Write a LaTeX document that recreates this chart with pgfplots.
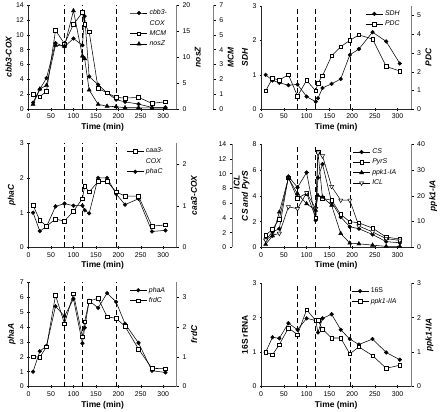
\documentclass[border=0pt]{standalone}
\usepackage{pgfplots}
\pgfplotsset{compat=1.18}
\usepackage{fontspec}
\setmainfont{Liberation Sans}
\begin{document}
\pgfplotsset{
  panel/.style={scale only axis, anchor=south west, xmin=0, xmax=330,
    tick align=outside, major tick length=2.5bp,
    tick style={line width=0.4pt, black},
    ticklabel style={font=\fontsize{7}{8}\selectfont},
    label style={font=\fontsize{8.5}{10}\selectfont\bfseries},
    ylabel style={inner sep=1bp},
    /pgf/number format/assume math mode=true, clip=false},
  prim/.style={panel, axis x line=bottom, axis y line=left,
    axis line style={-, line width=0.5pt, black!85},
    xtick={0,50,...,300}, xlabel={Time (min)}, xlabel style={yshift=2bp}},
  sec/.style={panel, axis x line=none, axis y line*=right,
    axis line style={-, line width=0.6pt, black!50}},
  hid/.style={panel, axis lines=none},
  fc/.style={black, line width=0.55pt, mark=*, mark size=1.9bp, mark options={solid, fill=black, line width=0.4pt}},
  os/.style={black, line width=0.55pt, mark=square*, mark size=1.8bp, mark options={solid, fill=white, line width=0.5pt}},
  ft/.style={black, line width=0.55pt, mark=triangle*, mark size=2.4bp, mark options={solid, fill=black, line width=0.4pt}},
  ot/.style={black, line width=0.55pt, mark=triangle*, mark size=2.4bp, mark options={solid, fill=white, rotate=180, line width=0.5pt}},
  leg/.style={legend cell align=left, legend style={draw=none, fill=none,
    font=\fontsize{7}{10}\selectfont\itshape, at={(axis description cs:#1)},
    anchor=north west, row sep=0pt, inner sep=0pt}},
  dl/.style={black, line width=0.6pt, dash pattern=on 5bp off 3bp, forget plot},
}
\begin{tikzpicture}
\useasboundingbox (0,0) rectangle (441bp,414bp);
% ---------------- Panel 1 ----------------
\begin{axis}[prim, at={(26bp,304bp)}, width=149bp, height=105bp, ymin=0, ymax=14, ytick={0,2,...,14}, ylabel={\itshape cbb3-COX}]
\addplot[dl] coordinates {(80,0)(80,14)};
\addplot[dl] coordinates {(120,0)(120,14)};
\addplot[dl] coordinates {(195,0)(195,14)};
\addplot[fc, forget plot] coordinates {(10,0.9)(25,2.7)(40,4.2)(60,8.9)(80,8.4)(100,9.5)(120,8.6)(125,12.5)(135,4.4)(155,3.3)(175,2.2)(195,1.3)(215,1.0)(245,0.7)(275,0.25)(305,0.25)};
\end{axis}
\begin{axis}[hid, at={(26bp,304bp)}, width=149bp, height=105bp, ymin=0, ymax=7]
\addplot[os, forget plot] coordinates {(10,1.0)(25,0.85)(40,1.2)(60,5.3)(80,4.4)(100,5.7)(120,6.5)(125,5.7)(135,5.2)(155,1.4)(175,1.1)(195,0.8)(215,0.75)(245,0.8)(275,0.4)(305,0.5)};
\end{axis}
\begin{axis}[sec, at={(26bp,304bp)}, width=149bp, height=105bp, ymin=0, ymax=20, ytick={0,5,...,20}, ylabel={\itshape nosZ}, leg={0.685,0.975}]
\addlegendimage{fc}\addlegendentry{cbb3-}
\addlegendimage{empty legend}\addlegendentry{COX}
\addlegendimage{os}\addlegendentry{MCM}
\addlegendimage{ft}\addlegendentry{nosZ}
\addplot[ft, forget plot] coordinates {(10,0.95)(25,3.9)(40,4.6)(60,12.3)(80,12.1)(100,18.9)(120,10.2)(125,9.7)(135,3.7)(155,0.95)(175,0.6)(195,0.5)(215,0.3)(245,0.3)(275,0.25)(305,0.25)};
\end{axis}
\begin{axis}[panel, anchor=south east, at={(212bp,304bp)}, width=1bp, height=105bp, xmin=0, xmax=1, axis x line=none, axis y line*=right, axis line style={-, line width=0.6pt, black!50}, ymin=0, ymax=7, ytick={0,...,7}, ylabel={\itshape MCM}]
\end{axis}
% ---------------- Panel 2 ----------------
\begin{axis}[prim, at={(260bp,304bp)}, width=151bp, height=104bp, ymin=0, ymax=3, ytick={0,1,2,3}, ylabel={\itshape SDH}]
\addplot[dl] coordinates {(80,0)(80,3)};
\addplot[dl] coordinates {(120,0)(120,3)};
\addplot[dl] coordinates {(195,0)(195,3)};
\addplot[fc, forget plot] coordinates {(10,1.0)(25,0.84)(40,0.77)(60,0.70)(80,0.72)(100,0.37)(120,0.22)(125,0.32)(135,0.62)(155,0.74)(175,0.88)(195,1.58)(215,1.75)(245,2.24)(275,1.97)(305,1.33)};
\end{axis}
\begin{axis}[sec, at={(260bp,304bp)}, width=151bp, height=104bp, ymin=0, ymax=5.5, ytick={0,...,5}, ylabel={\itshape PDC}, leg={0.695,0.975}]
\addlegendimage{fc}\addlegendentry{SDH}
\addlegendimage{os}\addlegendentry{PDC}
\addplot[os, forget plot] coordinates {(10,0.98)(25,1.65)(40,1.56)(60,1.84)(80,0.70)(100,1.54)(120,0.98)(125,1.40)(135,1.79)(155,2.84)(175,3.33)(195,3.67)(215,3.96)(245,3.74)(275,2.28)(305,2.04)};
\end{axis}
% ---------------- Panel 3 ----------------
\begin{axis}[prim, at={(26bp,165bp)}, width=149bp, height=105bp, ymin=0, ymax=3, ytick={0,1,2,3}, ylabel={\itshape phaC}]
\addplot[dl] coordinates {(80,0)(80,3)};
\addplot[dl] coordinates {(120,0)(120,3)};
\addplot[dl] coordinates {(195,0)(195,3)};
\addplot[fc, forget plot] coordinates {(10,1.0)(25,0.47)(40,0.6)(60,1.18)(80,1.26)(100,1.2)(120,1.2)(125,1.07)(135,0.98)(155,2.0)(175,2.0)(195,1.54)(215,1.23)(245,1.40)(275,0.46)(305,0.49)};
\end{axis}
\begin{axis}[sec, at={(26bp,165bp)}, width=149bp, height=105bp, ymin=0, ymax=2.5, ytick={0,1,2}, ylabel={\itshape caa3-COX}, leg={0.66,0.975}]
\addlegendimage{os}\addlegendentry{caa3-}
\addlegendimage{empty legend}\addlegendentry{COX}
\addlegendimage{fc}\addlegendentry{phaC}
\addplot[os, forget plot] coordinates {(10,1.01)(25,0.65)(40,0.51)(60,0.68)(80,0.63)(100,0.87)(120,1.17)(125,1.47)(135,1.33)(155,1.58)(175,1.58)(195,1.33)(215,1.23)(245,1.23)(275,0.51)(305,0.54)};
\end{axis}
% ---------------- Panel 4 ----------------
\begin{axis}[prim, at={(260bp,165bp)}, width=151bp, height=104bp, ymin=0, ymax=8, ytick={0,2,...,8}, ylabel={\itshape CS and PyrS}, ylabel style={at={(ticklabel cs:0.5,-1.5bp)}}]
\addplot[dl] coordinates {(80,0)(80,8)};
\addplot[dl] coordinates {(120,0)(120,8)};
\addplot[dl] coordinates {(195,0)(195,8)};
\addplot[fc, forget plot] coordinates {(10,0.6)(25,1.2)(40,1.45)(60,5.5)(80,4.65)(100,5.8)(120,2.1)(125,5.4)(135,6.45)(155,3.5)(175,2.35)(195,1.6)(215,1.45)(245,1.0)(275,0.45)(305,0.36)};
\addplot[os, forget plot] coordinates {(10,0.95)(25,1.4)(40,2.2)(60,5.4)(80,3.8)(100,4.2)(120,2.3)(125,7.4)(135,3.8)(155,3.65)(175,2.55)(195,2.0)(215,1.9)(245,1.5)(275,0.8)(305,0.65)};
\end{axis}
\begin{axis}[hid, at={(260bp,165bp)}, width=151bp, height=104bp, ymin=0, ymax=14]
\addplot[ot, forget plot] coordinates {(10,1.0)(25,1.65)(40,1.9)(60,5.5)(80,5.25)(100,7.4)(120,5.25)(125,12.8)(135,12.4)(155,8.25)(175,6.4)(195,6.4)(215,2.9)(245,2.1)(275,1.2)(305,0.95)};
\end{axis}
\begin{axis}[sec, at={(260bp,165bp)}, width=151bp, height=104bp, ymin=0, ymax=40, ytick={0,10,...,40}, ylabel={\itshape ppk1-IA}, leg={0.61,0.975}]
\addlegendimage{fc}\addlegendentry{CS}
\addlegendimage{os}\addlegendentry{PyrS}
\addlegendimage{ft}\addlegendentry{ppk1-IA}
\addlegendimage{ot}\addlegendentry{ICL}
\addplot[ft, forget plot] coordinates {(10,1.2)(25,4.5)(40,13.7)(60,26.8)(80,20.8)(100,16.9)(120,14.4)(125,20.1)(135,19.5)(155,16.3)(175,5.4)(195,1.7)(215,1.4)(245,0.9)(275,0.4)(305,0.4)};
\end{axis}
\begin{axis}[panel, at={(231bp,165bp)}, width=1bp, height=104bp, xmin=0, xmax=1, axis x line=none, axis y line*=left, axis line style={-, line width=0.6pt, black!50}, ymin=0, ymax=14, ytick={0,2,...,14}, ylabel={\itshape ICL}, ylabel style={at={(axis description cs:0,0.63)}, anchor=north, inner sep=1.2bp}]
\end{axis}
% ---------------- Panel 5 ----------------
\begin{axis}[prim, at={(26bp,25bp)}, width=149bp, height=105bp, ymin=0, ymax=7, ytick={0,...,7}, ylabel={\itshape phaA}]
\addplot[dl] coordinates {(80,0)(80,7)};
\addplot[dl] coordinates {(120,0)(120,7)};
\addplot[dl] coordinates {(195,0)(195,7)};
\addplot[fc, forget plot] coordinates {(10,1.0)(25,2.37)(40,2.73)(60,5.39)(80,4.72)(100,5.88)(120,2.9)(125,3.95)(135,5.76)(155,5.28)(175,6.27)(195,5.68)(215,4.21)(245,2.93)(275,1.06)(305,0.95)};
\end{axis}
\begin{axis}[sec, at={(26bp,25bp)}, width=149bp, height=105bp, ymin=0, ymax=3.5, ytick={0,1,2,3}, ylabel={\itshape frdC}, leg={0.68,0.975}]
\addlegendimage{fc}\addlegendentry{phaA}
\addlegendimage{os}\addlegendentry{frdC}
\addplot[os, forget plot] coordinates {(10,1.0)(25,0.99)(40,1.33)(60,3.06)(80,2.11)(100,3.11)(120,1.67)(125,2.18)(135,2.87)(155,2.96)(175,2.34)(195,2.29)(215,2.02)(245,1.26)(275,0.61)(305,0.6)};
\end{axis}
% ---------------- Panel 6 ----------------
\begin{axis}[prim, at={(260bp,25bp)}, width=151bp, height=104bp, ymin=0, ymax=3, ytick={0,1,2,3}, ylabel={16S rRNA}]
\addplot[dl] coordinates {(80,0)(80,3)};
\addplot[dl] coordinates {(120,0)(120,3)};
\addplot[dl] coordinates {(195,0)(195,3)};
\addplot[fc, forget plot] coordinates {(10,1.0)(25,1.43)(40,1.40)(60,1.84)(80,1.65)(100,1.98)(120,1.92)(125,1.57)(135,1.98)(155,2.1)(175,1.65)(195,1.38)(215,1.22)(245,1.38)(275,0.99)(305,0.78)};
\end{axis}
\begin{axis}[sec, at={(260bp,25bp)}, width=151bp, height=104bp, ymin=0, ymax=3, ytick={0,1,2,3}, ylabel={\itshape ppk1-IIA}, leg={0.60,0.975}]
\addlegendimage{fc}\addlegendentry{\upshape 16S}
\addlegendimage{os}\addlegendentry{ppk1-IIA}
\addplot[os, forget plot] coordinates {(10,1.0)(25,0.92)(40,1.22)(60,1.70)(80,1.51)(100,2.23)(120,1.92)(125,1.92)(135,1.67)(155,1.41)(175,1.41)(195,0.95)(215,1.15)(245,0.90)(275,0.53)(305,0.62)};
\end{axis}
\end{tikzpicture}
\end{document}
